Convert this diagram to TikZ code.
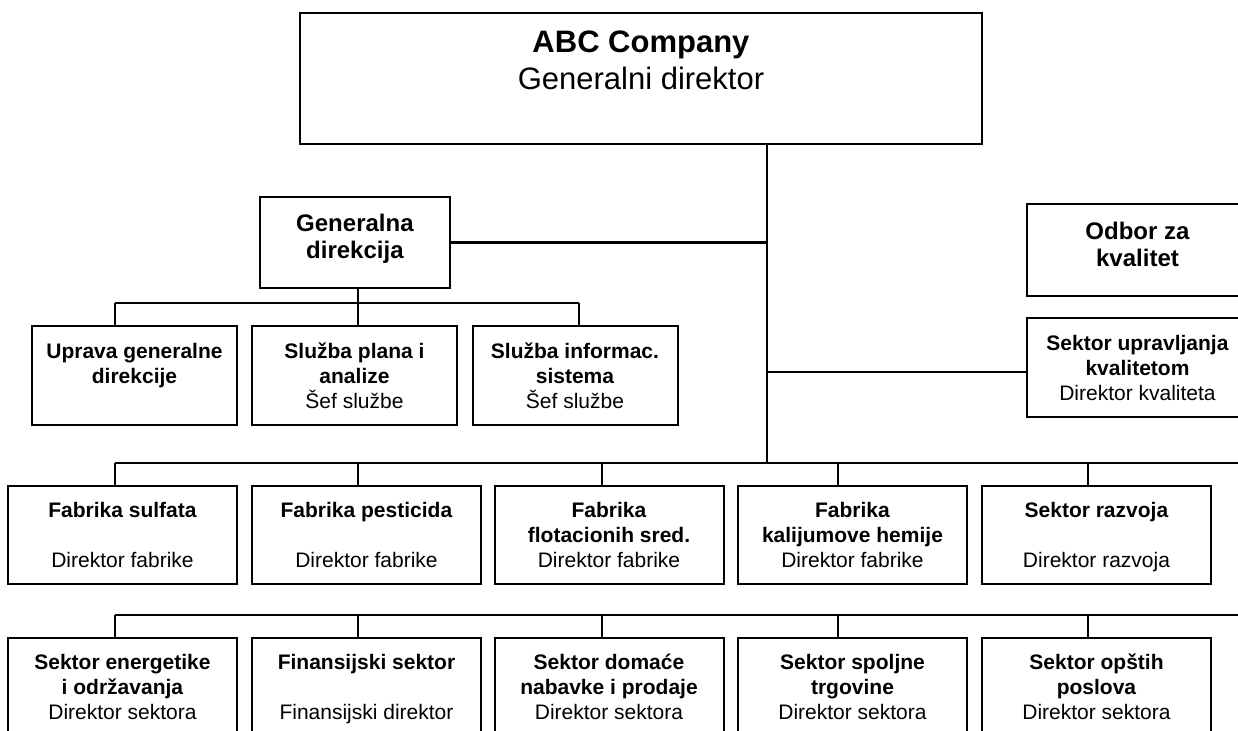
\documentclass[tikz,border=0pt]{standalone}
\usepackage{fontspec}
\setmainfont{Liberation Sans}
\newcommand{\fsA}{\fontsize{21bp}{25bp}\selectfont}
\newcommand{\fsB}{\fontsize{24bp}{27bp}\selectfont}
\newcommand{\fsC}{\fontsize{31bp}{37bp}\selectfont}
\newcommand{\firstl}[1]{\rule{0pt}{15bp}\smash{\textbf{#1}}}
\newcommand{\lastl}[1]{\smash{#1}}
\begin{document}
\begin{tikzpicture}[x=1bp,y=-1bp,
  orgbox/.style={draw=black, line width=2bp, rectangle, inner sep=0pt, align=center},
  rowA/.style={orgbox, minimum width=205bp, minimum height=99bp, font=\fsA},
  rowB/.style={orgbox, minimum width=229bp, minimum height=98bp, font=\fsA},
  link/.style={draw=black, line width=2.5bp},
]
\useasboundingbox (0,0) rectangle (1238,731);
\clip (0,0) rectangle (1238,731);

% boxes
\node[orgbox, minimum width=682bp, minimum height=131bp, font=\fsC] (ceo) at (641,78.5)
  {\textbf{ABC Company}\\Generalni direktor\\\mbox{}};
\node[orgbox, minimum width=190bp, minimum height=91bp, font=\fsB] (gd) at (355,242.5)
  {\textbf{Generalna}\\\textbf{direkcija}\\[-15bp]\mbox{}};
\node[orgbox, minimum width=221bp, minimum height=92bp, font=\fsB] (odbor) at (1137.5,250)
  {\textbf{Odbor za}\\\textbf{kvalitet}\\[-15bp]\mbox{}};
\node[orgbox, minimum width=221bp, minimum height=99bp, font=\fsA] (suk) at (1137.5,367.5)
  {\firstl{Sektor upravljanja}\\\textbf{kvalitetom}\\\lastl{Direktor kvaliteta}};

\node[rowA] (up) at (134.5,375.5) {\firstl{Uprava generalne}\\\textbf{direkcije}\\\mbox{}};
\node[rowA] (spa) at (354.5,375.5) {\firstl{Služba plana i}\\\textbf{analize}\\\lastl{Šef službe}};
\node[rowA] (sis) at (575,375.5) {\firstl{Služba informac.}\\\textbf{sistema}\\\lastl{Šef službe}};

\node[rowB] (f1) at (122.5,535) {\firstl{Fabrika sulfata}\\\mbox{}\\\lastl{Direktor fabrike}};
\node[rowB] (f2) at (366.5,535) {\firstl{Fabrika pesticida}\\\mbox{}\\\lastl{Direktor fabrike}};
\node[rowB] (f3) at (609,535) {\firstl{Fabrika}\\\textbf{flotacionih sred.}\\\lastl{Direktor fabrike}};
\node[rowB] (f4) at (852.5,535) {\firstl{Fabrika}\\\textbf{kalijumove hemije}\\\lastl{Direktor fabrike}};
\node[rowB] (f5) at (1096.5,535) {\firstl{Sektor razvoja}\\\mbox{}\\\lastl{Direktor razvoja}};

\node[rowB] (s1) at (122.5,687) {\firstl{Sektor energetike}\\\textbf{i održavanja}\\\lastl{Direktor sektora}};
\node[rowB] (s2) at (366.5,687) {\firstl{Finansijski sektor}\\\mbox{}\\\lastl{Finansijski direktor}};
\node[rowB] (s3) at (609,687) {\firstl{Sektor domaće}\\\textbf{nabavke i prodaje}\\\lastl{Direktor sektora}};
\node[rowB] (s4) at (852.5,687) {\firstl{Sektor spoljne}\\\textbf{trgovine}\\\lastl{Direktor sektora}};
\node[rowB] (s5) at (1096.5,687) {\firstl{Sektor opštih}\\\textbf{poslova}\\\lastl{Direktor sektora}};

% junction points
\coordinate (j0) at (767,463);
\coordinate (js) at (767,372);
\coordinate (b2L) at (115,303);
\coordinate (b2M) at (358,303);
\coordinate (b2R) at (579,303);
\coordinate (b3R) at (1242,463);
\coordinate (b4R) at (1242,615);
\coordinate (k1) at (115,463);
\coordinate (k2) at (358,463);
\coordinate (k3) at (602,463);
\coordinate (k4) at (838,463);
\coordinate (k5) at (1088,463);
\coordinate (m1) at (115,615);
\coordinate (m2) at (358,615);
\coordinate (m3) at (602,615);
\coordinate (m4) at (838,615);
\coordinate (m5) at (1088,615);

% connectors
\draw[link] (ceo.south -| j0) -- (j0);
\draw[link] (gd.east) -- (gd.east -| j0);
\draw[link] (js) -- (js -| suk.west);
\draw[link] (gd.south -| b2M) -- (b2M |- spa.north);
\draw[link] (b2L) -- (b2R);
\draw[link] (b2L) -- (b2L |- up.north);
\draw[link] (b2R) -- (b2R |- sis.north);

\draw[link] (k1) -- (b3R);
\draw[link] (k1) -- (k1 |- f1.north);
\draw[link] (k2) -- (k2 |- f2.north);
\draw[link] (k3) -- (k3 |- f3.north);
\draw[link] (k4) -- (k4 |- f4.north);
\draw[link] (k5) -- (k5 |- f5.north);

\draw[link] (m1) -- (b4R);
\draw[link] (m1) -- (m1 |- s1.north);
\draw[link] (m2) -- (m2 |- s2.north);
\draw[link] (m3) -- (m3 |- s3.north);
\draw[link] (m4) -- (m4 |- s4.north);
\draw[link] (m5) -- (m5 |- s5.north);
\end{tikzpicture}
\end{document}
